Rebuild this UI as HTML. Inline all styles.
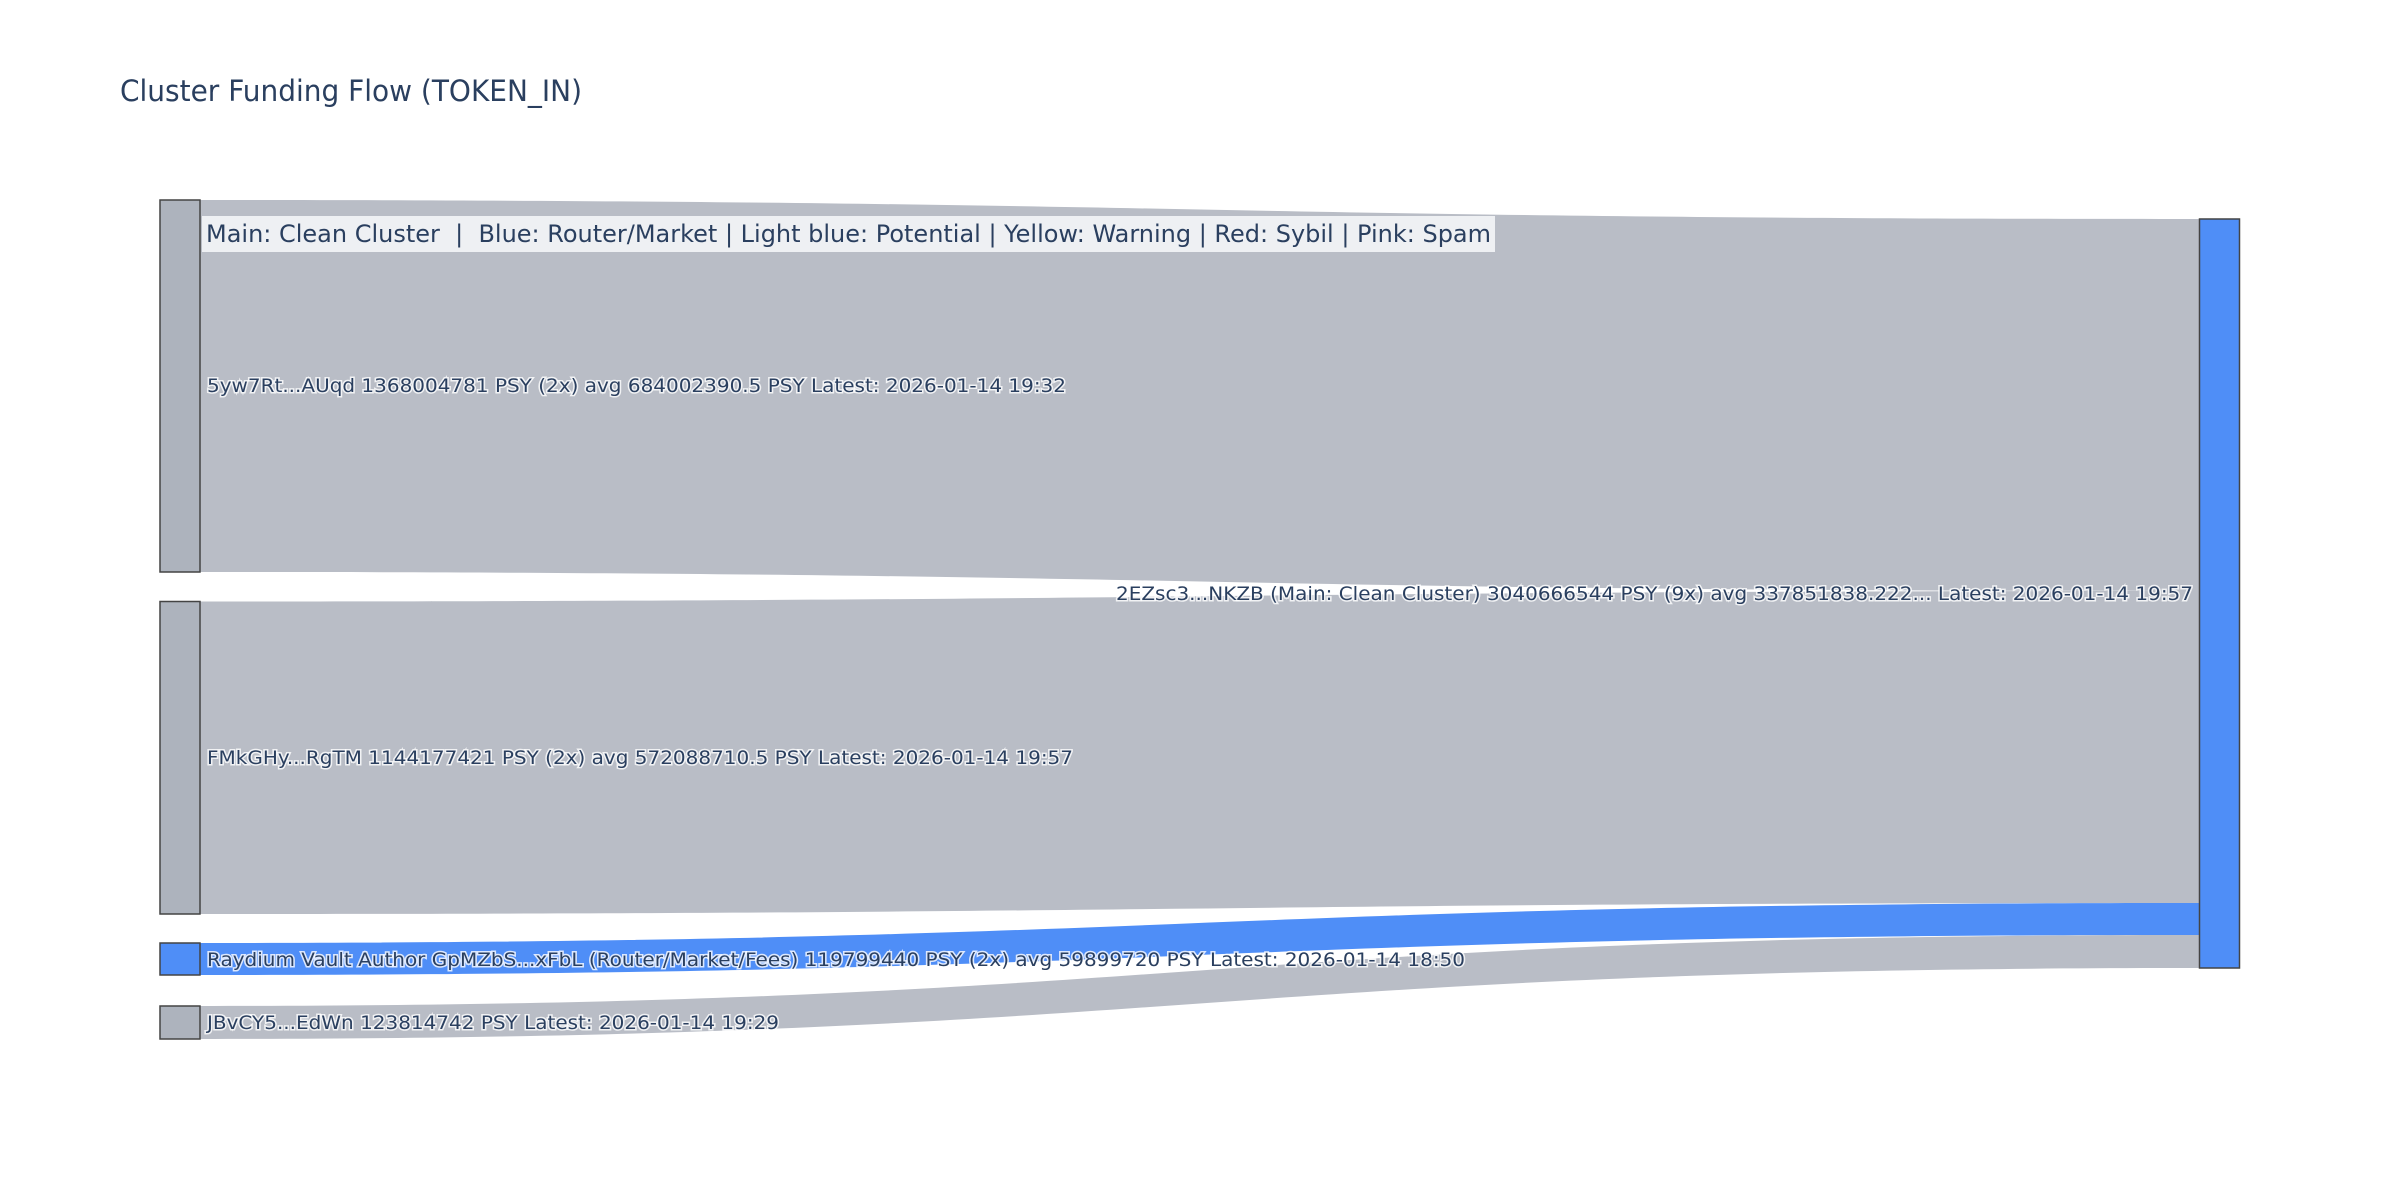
<!DOCTYPE html>
<html><head><meta charset="utf-8"><style>
html,body{margin:0;padding:0;background:#fff;}
svg{display:block;}
text{font-family:"DejaVu Sans","Liberation Sans",sans-serif;}
.lbl{font-size:19px;fill:#2a3f5f;stroke:#fff;stroke-width:3px;stroke-opacity:0.8;paint-order:stroke;dominant-baseline:central;}
</style></head><body>
<svg width="2400" height="1200" viewBox="0 0 2400 1200" xmlns="http://www.w3.org/2000/svg">
<rect width="2400" height="1200" fill="#fff"/>
<text x="120" y="91" font-size="29" fill="#2a3f5f" dominant-baseline="central" textLength="462" lengthAdjust="spacingAndGlyphs">Cluster Funding Flow (TOKEN_IN)</text>
<g fill="#b9bdc6">
<path d="M200,200 C1199.5,200 1199.5,219 2199,219 L2199,591 C1199.5,591 1199.5,572 200,572 Z"/>
<path d="M200,601.5 C1199.5,601.5 1199.5,591 2199,591 L2199,903 C1199.5,903 1199.5,914 200,914 Z"/>
<path d="M200,1006 C1199.5,1006 1199.5,935 2199,935 L2199,968 C1199.5,968 1199.5,1039 200,1039 Z"/>
</g>
<path fill="#4f8ef7" d="M200,943 C1199.5,943 1199.5,903 2199,903 L2199,935 C1199.5,935 1199.5,975 200,975 Z"/>
<g stroke="#444" stroke-width="1.5">
<rect x="160" y="200" width="40" height="372" fill="#adb3bd"/>
<rect x="160" y="601.5" width="40" height="312.5" fill="#adb3bd"/>
<rect x="160" y="943" width="40" height="32" fill="#4f8ef7"/>
<rect x="160" y="1006" width="40" height="33" fill="#adb3bd"/>
<rect x="2199.5" y="219" width="40" height="749" fill="#4f8ef7"/>
</g>
<rect x="202" y="216" width="1293" height="36" fill="#eef0f3"/>
<text x="206" y="234" font-size="24" fill="#2a3f5f" dominant-baseline="central" textLength="1285" lengthAdjust="spacingAndGlyphs" xml:space="preserve">Main: Clean Cluster  |  Blue: Router/Market | Light blue: Potential | Yellow: Warning | Red: Sybil | Pink: Spam</text>
<text class="lbl" x="207" y="386" textLength="859" lengthAdjust="spacingAndGlyphs">5yw7Rt...AUqd 1368004781 PSY (2x) avg 684002390.5 PSY Latest: 2026-01-14 19:32</text>
<text class="lbl" x="207" y="758" textLength="866" lengthAdjust="spacingAndGlyphs">FMkGHy...RgTM 1144177421 PSY (2x) avg 572088710.5 PSY Latest: 2026-01-14 19:57</text>
<text class="lbl" x="207" y="960" textLength="1258" lengthAdjust="spacingAndGlyphs">Raydium Vault Author GpMZbS...xFbL (Router/Market/Fees) 119799440 PSY (2x) avg 59899720 PSY Latest: 2026-01-14 18:50</text>
<text class="lbl" x="207" y="1023" textLength="572" lengthAdjust="spacingAndGlyphs">JBvCY5...EdWn 123814742 PSY Latest: 2026-01-14 19:29</text>
<text class="lbl" x="1116" y="594" textLength="1077" lengthAdjust="spacingAndGlyphs">2EZsc3...NKZB (Main: Clean Cluster) 3040666544 PSY (9x) avg 337851838.222... Latest: 2026-01-14 19:57</text>
</svg>
</body></html>
